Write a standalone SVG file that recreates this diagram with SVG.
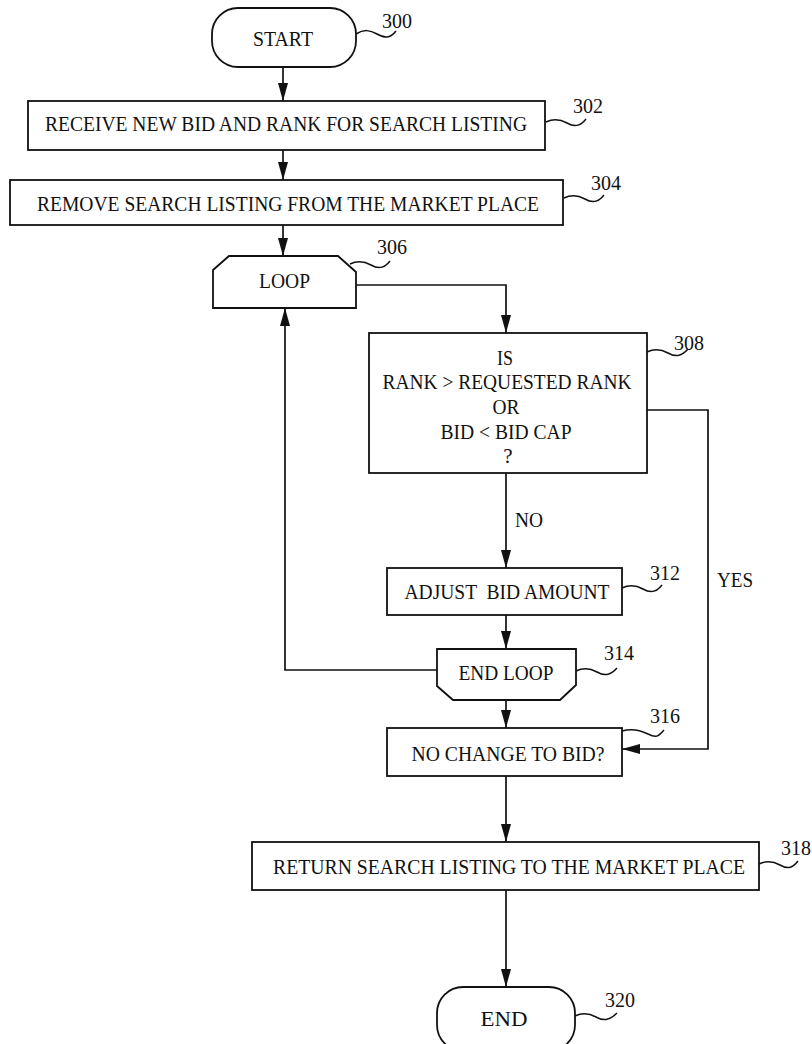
<svg xmlns="http://www.w3.org/2000/svg" width="812" height="1044" viewBox="0 0 812 1044">
<style>
.b{fill:#fff;stroke:#111;stroke-width:1.8}
.t{font-family:"Liberation Serif","DejaVu Serif","Times New Roman",serif;font-size:21px;fill:#111;text-anchor:middle}
.n{font-family:"Liberation Serif","DejaVu Serif","Times New Roman",serif;font-size:20px;fill:#111}
.l{fill:none;stroke:#111;stroke-width:1.5}
.c{fill:none;stroke:#111;stroke-width:1.7}
</style>
<defs>
<marker id="ah" viewBox="0 0 18 10" refX="18" refY="5" markerWidth="18" markerHeight="10" markerUnits="userSpaceOnUse" orient="auto"><path d="M0,0 L18,5 L0,10 z" fill="#111"/></marker>
</defs>
<rect width="812" height="1044" fill="#fff"/>
<g id="connectors">
<path class="c" d="M283,67 V101" marker-end="url(#ah)"/>
<path class="c" d="M283,150 V180" marker-end="url(#ah)"/>
<path class="c" d="M283,225 V256" marker-end="url(#ah)"/>
<path class="c" d="M356,285 H506 V333" marker-end="url(#ah)"/>
<path class="c" d="M506,473 V568" marker-end="url(#ah)"/>
<path class="c" d="M506,615 V649" marker-end="url(#ah)"/>
<path class="c" d="M437,670 H285 V308" marker-end="url(#ah)"/>
<path class="c" d="M647,410 H708 V749 H622" marker-end="url(#ah)"/>
<path class="c" d="M506,700 V728" marker-end="url(#ah)"/>
<path class="c" d="M506,776 V842" marker-end="url(#ah)"/>
<path class="c" d="M506,890 V987" marker-end="url(#ah)"/>
<text class="n" x="515" y="527" textLength="28" lengthAdjust="spacingAndGlyphs" font-size="22">NO</text>
<text class="n" x="717" y="587" textLength="36" lengthAdjust="spacingAndGlyphs" font-size="22">YES</text>
</g>
<g id="n300">
<rect class="b" x="212" y="8" width="144" height="59" rx="26" ry="26"/>
<text class="t" x="283" y="46" textLength="60" lengthAdjust="spacingAndGlyphs">START</text>
<path class="l" d="M356,34 C364,29 370,30 377,34 S390,39 396,31"/>
<text class="n" x="382" y="28">300</text>
</g>
<g id="n302">
<rect class="b" x="28" y="101" width="517" height="49"/>
<text class="t" x="286" y="131" textLength="482" lengthAdjust="spacingAndGlyphs">RECEIVE NEW BID AND RANK FOR SEARCH LISTING</text>
<path class="l" d="M546,122 C554,118 560,119 567,123 S580,127 586,119"/>
<text class="n" x="573" y="113">302</text>
</g>
<g id="n304">
<rect class="b" x="10" y="180" width="553" height="45"/>
<text class="t" x="288" y="211" textLength="502" lengthAdjust="spacingAndGlyphs">REMOVE SEARCH LISTING FROM THE MARKET PLACE</text>
<path class="l" d="M564,198 C572,194 578,195 585,199 S598,203 604,195"/>
<text class="n" x="591" y="190">304</text>
</g>
<g id="n306">
<path class="b" d="M213,270 L229,256 L338,256 L356,272 L356,308 L213,308 Z"/>
<text class="t" x="284.5" y="288" textLength="51" lengthAdjust="spacingAndGlyphs">LOOP</text>
<path class="l" d="M350,264 C358,260 364,261 371,265 S384,269 390,261"/>
<text class="n" x="377" y="254">306</text>
</g>
<g id="n308">
<rect class="b" x="369" y="333" width="278" height="140"/>
<text class="t" x="505" y="365" textLength="16" lengthAdjust="spacingAndGlyphs">IS</text>
<text class="t" x="507" y="389" textLength="249" lengthAdjust="spacingAndGlyphs">RANK &gt; REQUESTED RANK</text>
<text class="t" x="506" y="414" textLength="27" lengthAdjust="spacingAndGlyphs">OR</text>
<text class="t" x="506" y="439" textLength="131" lengthAdjust="spacingAndGlyphs">BID &lt; BID CAP</text>
<text class="t" x="508" y="463">?</text>
<path class="l" d="M647,352 C655,348 661,349 668,353 S681,357 688,349"/>
<text class="n" x="674" y="350">308</text>
</g>
<g id="n312">
<rect class="b" x="387" y="568" width="235" height="47"/>
<text class="t" x="507" y="599" textLength="205" lengthAdjust="spacingAndGlyphs" xml:space="preserve">ADJUST  BID AMOUNT</text>
<path class="l" d="M622,588 C630,584 636,585 643,589 S656,593 662,585"/>
<text class="n" x="650" y="580">312</text>
</g>
<g id="n314">
<path class="b" d="M437,649 L576,649 L576,685 L560,700 L453,700 L437,686 Z"/>
<text class="t" x="506" y="680" textLength="95" lengthAdjust="spacingAndGlyphs">END LOOP</text>
<path class="l" d="M576,671 C584,667 590,668 597,672 S610,676 617,668"/>
<text class="n" x="604" y="660">314</text>
</g>
<g id="n316">
<rect class="b" x="387" y="728" width="235" height="48"/>
<text class="t" x="508" y="761" textLength="193" lengthAdjust="spacingAndGlyphs">NO CHANGE TO BID?</text>
<path class="l" d="M622,731 C632,728 640,730 648,734 S658,737 664,730"/>
<text class="n" x="650" y="723">316</text>
</g>
<g id="n318">
<rect class="b" x="252" y="842" width="507" height="48"/>
<text class="t" x="509" y="874" textLength="472" lengthAdjust="spacingAndGlyphs">RETURN SEARCH LISTING TO THE MARKET PLACE</text>
<path class="l" d="M759,864 C767,860 773,861 780,865 S792,869 798,861"/>
<text class="n" x="781" y="855">318</text>
</g>
<g id="n320">
<rect class="b" x="437" y="987" width="138" height="64" rx="26" ry="26"/>
<text class="t" x="504" y="1026" textLength="47" lengthAdjust="spacingAndGlyphs">END</text>
<path class="l" d="M575,1016 C583,1012 589,1013 596,1017 S609,1021 617,1013"/>
<text class="n" x="605" y="1007">320</text>
</g>
</svg>
